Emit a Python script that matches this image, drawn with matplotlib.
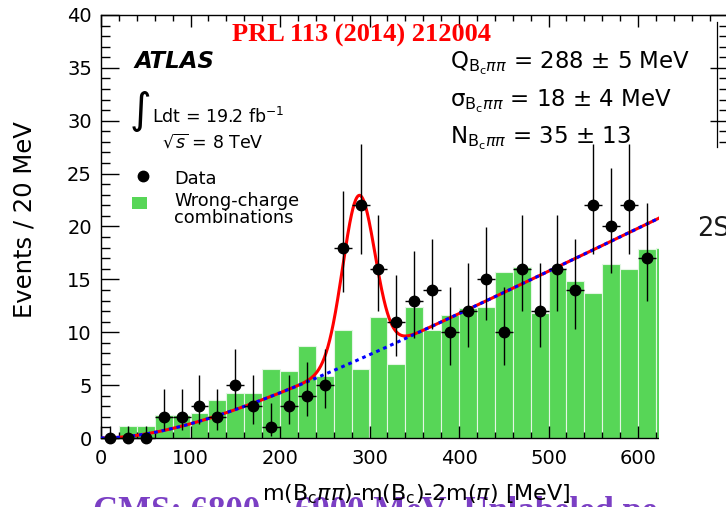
import numpy as np
import matplotlib
matplotlib.use("Agg")
import matplotlib.pyplot as plt
from matplotlib.patches import Rectangle
from matplotlib.lines import Line2D
from matplotlib.ticker import MultipleLocator

W, H = 726, 507

# 20 MeV bins
bin_width = 20
hist_lo = np.arange(0, 640, bin_width)          # 0 ... 620
data_x = np.arange(10, 630, bin_width)          # bin centres 10 ... 610

data_counts = [0, 0, 0, 2, 2, 3, 2, 5, 3, 1, 3, 4, 5, 18, 22, 16,
               11, 13, 14, 10, 12, 15, 10, 16, 12, 16, 14, 22, 20, 22, 17]
# asymmetric poisson errors
data_err_lo = [0, 0, 0, 1.29, 1.29, 1.63, 1.29, 2.16, 1.63, 0.83, 1.63, 1.91, 2.16, 4.19, 4.62, 3.95,
               3.27, 3.56, 3.69, 3.11, 3.41, 3.82, 3.11, 3.95, 3.41, 3.95, 3.69, 4.62, 4.41, 4.62, 4.07]
data_err_hi = [1.15, 1.15, 1.15, 2.64, 2.64, 2.92, 2.64, 3.38, 2.92, 2.30, 2.92, 3.16, 3.38, 5.32, 5.76, 5.08,
               4.42, 4.70, 4.83, 4.27, 4.56, 4.96, 4.27, 5.08, 4.56, 5.08, 4.83, 5.76, 5.55, 5.76, 5.20]

wrong_charge = [0, 1.15, 1.15, 2.2, 2.2, 2.4, 3.6, 4.3, 4.3, 6.5, 6.3, 8.7, 5.9, 10.2, 6.5, 11.4,
                7.0, 12.4, 10.2, 11.6, 12.3, 12.4, 15.7, 16.2, 11.85, 16.1, 14.8, 13.7, 16.5, 16.0, 17.9, 18.0]

# fit result (signal numbers from the plot text)
sig_mean = 288.0
sig_sigma = 18.0
sig_yield = 35.0
bkg_slope = 0.041
bkg_turnon = 117.0

GREEN = "#57d657"
PURPLE = "#7b3fc4"


def fpos(x, y):
    # pixel position in the picture -> figure fraction
    return x / W, 1 - y / H


def background(m):
    return bkg_slope * (m - bkg_turnon * (1 - np.exp(-m / bkg_turnon)))


def signal(m):
    amp = sig_yield * bin_width / (sig_sigma * np.sqrt(2 * np.pi))
    return amp * np.exp(-0.5 * ((m - sig_mean) / sig_sigma) ** 2)


def main():
    plt.rcParams['font.family'] = ['DejaVu Sans']
    fig = plt.figure(figsize=(W / 100, H / 100), dpi=100)
    ax = fig.add_axes([101 / W, 69 / H, 626.5 / W, 423 / H])

    ax.bar(hist_lo, wrong_charge, width=bin_width, align='edge', color=GREEN,
           edgecolor='#e4f6e4', linewidth=0.8, zorder=1)

    m = np.linspace(0, 700, 1401)
    ax.plot(m, background(m) + signal(m), color='red', lw=2.2, zorder=2)
    ax.plot(m, background(m), color='blue', lw=2.2, ls=(0, (1.2, 1.3)), zorder=3)

    ax.errorbar(data_x, data_counts, yerr=[data_err_lo, data_err_hi], xerr=bin_width / 2,
                fmt='o', color='black', ms=7.5, elinewidth=1.0, capsize=0,
                zorder=4, clip_on=False)

    ax.set_xlim(0, 700)
    ax.set_ylim(0, 40)
    ax.xaxis.set_major_locator(MultipleLocator(100))
    ax.xaxis.set_minor_locator(MultipleLocator(20))
    ax.yaxis.set_major_locator(MultipleLocator(5))
    ax.yaxis.set_minor_locator(MultipleLocator(1))
    ax.tick_params(which='both', direction='in', top=True, right=True,
                   labelsize=14, width=1.0, color='black')
    ax.tick_params(axis='x', which='major', length=8.6, pad=8)
    ax.tick_params(axis='x', which='minor', length=4.3)
    ax.tick_params(axis='y', which='major', length=13, pad=6.5)
    ax.tick_params(axis='y', which='minor', length=6.5)
    for s in ax.spines.values():
        s.set_linewidth(1.0)

    # axis titles
    fig.text(*fpos(262, 500), r"m(B$_\mathrm{c}$$\pi\pi$)-m(B$_\mathrm{c}$)-2m($\pi$) [MeV]",
             fontsize=16, ha='left', va='baseline')
    fig.text(*fpos(25, 220), "Events / 20 MeV", fontsize=17.5, rotation=90,
             ha='center', va='center')

    # labels inside the frame
    fig.text(*fpos(232, 42), "PRL 113 (2014) 212004", color='red', fontsize=19,
             fontweight='bold', family='Liberation Serif', ha='left', va='baseline')
    fig.text(*fpos(134, 68), "ATLAS", fontsize=16.5, fontweight='bold', style='italic',
             ha='left', va='baseline')
    fig.text(*fpos(140, 111), "\u222b", fontsize=30, ha='center', va='center')
    fig.text(*fpos(152, 123), r"Ldt = 19.2 fb$^{-1}$", fontsize=12.5, ha='left', va='baseline')
    fig.text(*fpos(162, 148), r"$\sqrt{s}$ = 8 TeV", fontsize=12.5, ha='left', va='baseline')

    # legend
    fig.add_artist(Line2D([143 / W], [1 - 176 / H], marker='o', color='black', ms=7.5,
                          transform=fig.transFigure))
    fig.add_artist(Rectangle(fpos(132, 209), 15 / W, 12 / H, facecolor=GREEN,
                             edgecolor='none', transform=fig.transFigure))
    fig.text(*fpos(174, 184), "Data", fontsize=12.8, ha='left', va='baseline')
    fig.text(*fpos(174, 206), "Wrong-charge", fontsize=12.8, ha='left', va='baseline')
    fig.text(*fpos(174, 223), "combinations", fontsize=12.8, ha='left', va='baseline')

    sub = r"$_{\mathrm{B_c}\pi\pi}$"
    fig.text(*fpos(450, 68), "Q" + sub + " = 288 \u00b1 5 MeV", fontsize=16.5, ha='left', va='baseline')
    fig.text(*fpos(450, 106), "\u03c3" + sub + " = 18 \u00b1 4 MeV", fontsize=16.5, ha='left', va='baseline')
    fig.text(*fpos(450, 143), "N" + sub + " = 35 \u00b1 13", fontsize=16.5, ha='left', va='baseline')

    # the slide's text box covering the right end of the plot
    fig.add_artist(Rectangle(fpos(659, 507), 1 - 659 / W, 1 - 147 / H, facecolor='white',
                             edgecolor='none', transform=fig.transFigure, zorder=5))
    fig.add_artist(Line2D([717 / W, 717 / W], [1 - 22 / H, 1 - 147 / H], color='black',
                          lw=0.9, transform=fig.transFigure, zorder=5))
    fig.text(*fpos(697, 236), "2S", fontsize=18.5, color='#1a1a1a', ha='left', va='baseline', zorder=6)
    # slide text below the plot, only its top edge is in the picture
    fig.text(*fpos(93, 521), "CMS: 6800 \u2013 6900 MeV  Unlabeled peak", fontsize=25,
             fontweight='bold', family='Liberation Serif', color=PURPLE, ha='left', va='baseline',
             zorder=1)

    fig.savefig("out.png", dpi=100)


if __name__ == "__main__":
    main()
